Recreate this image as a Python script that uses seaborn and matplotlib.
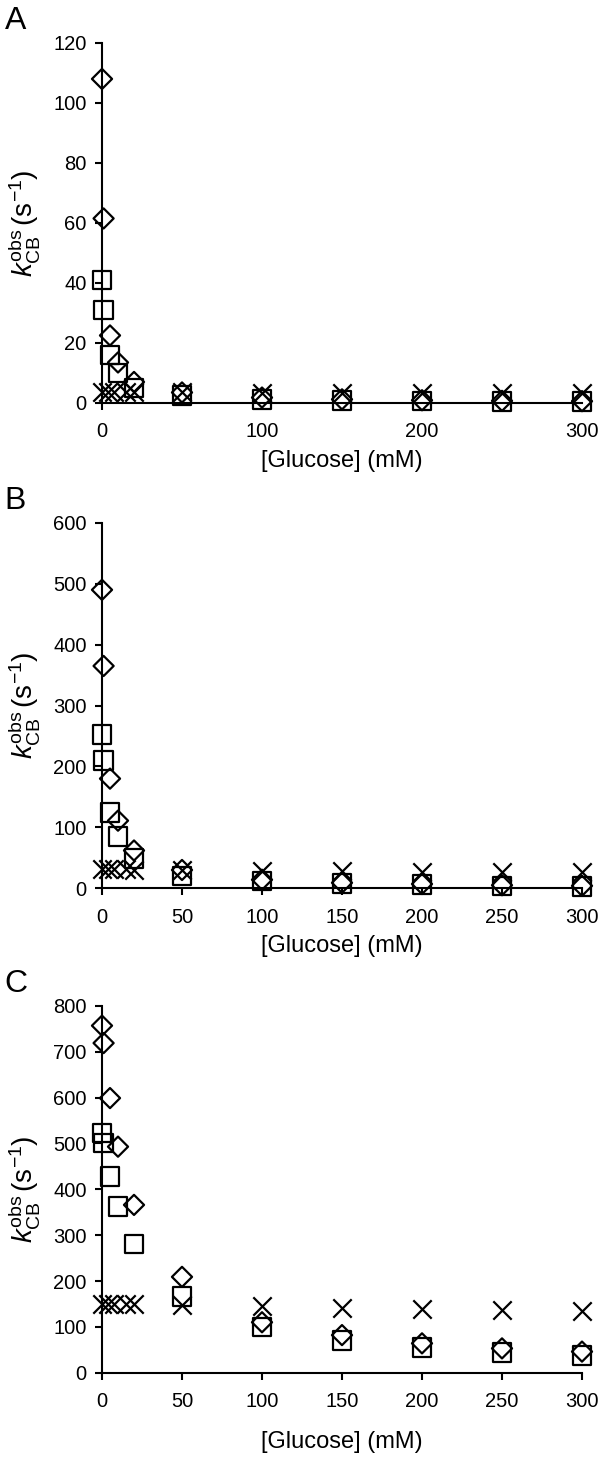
import matplotlib
matplotlib.use("Agg")
import matplotlib.pyplot as plt
import seaborn as sns

# glucose concentrations (mM)
glc = [0, 1, 5, 10, 20, 50, 100, 150, 200, 250, 300]
glc_cross = [0, 3.5, 7.5, 15, 20, 50, 100, 150, 200, 250, 300]

# panel A
a_dia = [108, 61.5, 22.5, 13.5, 7, 3.5, 1.8, 1.2, 0.9, 0.7, 0.6]
a_sq = [41, 31, 16, 10, 5, 2.5, 1.2, 0.8, 0.6, 0.5, 0.4]
a_x = [3.5, 3.5, 3.5, 3.5, 3.5, 3.5, 3.3, 3.3, 3.2, 3.2, 3.2]

# panel B
b_dia = [490, 365, 180, 111, 62, 30, 14, 9, 7, 5, 4]
b_sq = [252, 210, 124, 85, 49, 20, 12, 8, 6, 4, 3]
b_x = [32, 32, 32, 31, 30, 30, 28, 28, 27, 27, 26]

# panel C
c_dia = [757, 719, 599, 493, 366, 209, 110, 82, 64, 53, 46]
c_sq = [523, 501, 428, 362, 281, 166, 100, 70, 55, 44, 37]
c_x = [150, 150, 150, 150, 150, 148, 145, 141, 140, 137, 134]

panels = ["A", "B", "C"]
ymax = [120, 600, 800]
ystep = [20, 100, 100]

sns.set_style("ticks")
plt.rcParams['font.family'] = ['Liberation Sans', 'DejaVu Sans']
plt.rcParams['mathtext.fontset'] = 'custom'
plt.rcParams['mathtext.rm'] = 'Liberation Sans'
plt.rcParams['mathtext.it'] = 'Liberation Sans:italic'
plt.rcParams['mathtext.bf'] = 'Liberation Sans:bold'
plt.rcParams['text.color'] = 'black'
plt.rcParams['axes.labelcolor'] = 'black'
plt.rcParams['xtick.color'] = 'black'
plt.rcParams['ytick.color'] = 'black'

fig = plt.figure(figsize=(6, 14.6), dpi=100)
boxes = [[0.170, 0.7240, 0.800, 0.2466],
         [0.170, 0.3916, 0.800, 0.2503],
         [0.170, 0.0598, 0.800, 0.2512]]
data = [(a_dia, a_sq, a_x), (b_dia, b_sq, b_x), (c_dia, c_sq, c_x)]

for i, (dia, sq, xx) in enumerate(data):
    ax = fig.add_axes(boxes[i])
    sns.scatterplot(x=glc, y=dia, marker="D", s=105, facecolor="none",
                    edgecolor="black", linewidth=1.6, clip_on=False, zorder=3, ax=ax)
    sns.scatterplot(x=glc, y=sq, marker="s", s=180, facecolor="none",
                    edgecolor="black", linewidth=1.6, clip_on=False, zorder=3, ax=ax)
    sns.scatterplot(x=glc_cross, y=xx, marker="x", s=175, color="black",
                    linewidth=1.6, clip_on=False, zorder=3, ax=ax)
    ax.set_xlim(0, 300)
    ax.set_ylim(0, ymax[i])
    ax.set_yticks(range(0, ymax[i] + 1, ystep[i]))
    if i == 0:
        ax.set_xticks([0, 100, 200, 300])
    else:
        ax.set_xticks(range(0, 301, 50))
    sns.despine(ax=ax)
    for sp in ["left", "bottom"]:
        ax.spines[sp].set_linewidth(1.5)
        ax.spines[sp].set_color("black")
    ax.tick_params(axis="both", labelsize=14.5, width=1.5, length=5,
                   color="black", labelcolor="black")
    ax.tick_params(axis="x", pad=9)
    ax.tick_params(axis="y", pad=6)
    if i == 0:
        for t in ax.xaxis.get_major_ticks()[1:]:
            t.tick1line.set_visible(False)
    ax.set_xlabel("[Glucose] (mM)", fontsize=17, labelpad=6 if i < 2 else 14)
    ax.set_ylabel(r'$k^{\mathrm{obs}}_{\mathrm{CB}}\,(\mathrm{s}^{-1})$', fontsize=20)
    ax.yaxis.set_label_coords(-0.125, 0.5)
    pos = ax.get_position()
    fig.text(0.008, pos.y1 + 0.025, panels[i], fontsize=23, va="top", ha="left")

fig.savefig("out.png", dpi=100)
